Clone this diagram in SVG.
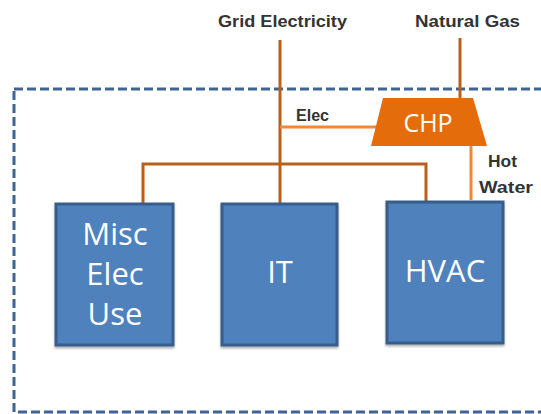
<svg xmlns="http://www.w3.org/2000/svg" width="541" height="414" viewBox="0 0 541 414">
<defs>
<filter id="sh" x="-10%" y="-10%" width="130%" height="130%"><feDropShadow dx="0" dy="2" stdDeviation="1" flood-color="#000" flood-opacity="0.3"/></filter>
</defs>
<style>
.lbl{font-family:"Liberation Sans",Arial,sans-serif;font-size:16px;font-weight:bold;fill:#333;}
.box{fill:#4F81BD;stroke:#385D8A;stroke-width:3;filter:url(#sh);}
.bt{font-family:"Open Sans","Liberation Sans",sans-serif;font-size:31px;fill:#fff;text-anchor:middle;}
.dist{stroke:#B85F1B;stroke-width:3;fill:none;}
.chpl{stroke:#F0883A;stroke-width:3;fill:none;}
</style>
<rect x="14" y="89" width="560" height="323" fill="none" stroke="#3E6494" stroke-width="3" stroke-dasharray="9,4"/>
<g id="connectors">
<line class="dist" x1="280" y1="40" x2="280" y2="203"/>
<line class="dist" x1="460" y1="38" x2="460" y2="98"/>
<polyline class="dist" points="143,203 143,164 426,164 426,201"/>
<line class="chpl" x1="280" y1="127" x2="376" y2="127"/>
<line class="chpl" x1="471" y1="145" x2="471" y2="200"/>
</g>
<g id="grid-label"><text class="lbl" x="218" y="27" textLength="129" lengthAdjust="spacingAndGlyphs">Grid Electricity</text></g>
<g id="gas-label"><text class="lbl" x="415" y="27" textLength="105" lengthAdjust="spacingAndGlyphs">Natural Gas</text></g>
<g id="elec-label"><text class="lbl" x="296" y="121" textLength="33" lengthAdjust="spacingAndGlyphs">Elec</text></g>
<g id="hot-label"><text class="lbl" x="488" y="167" textLength="29" lengthAdjust="spacingAndGlyphs">Hot</text><text class="lbl" x="479" y="193" textLength="54" lengthAdjust="spacingAndGlyphs">Water</text></g>
<g id="chp">
<polygon points="383,98 473,98 487,146 371,146" fill="#E46C0A"/>
<text x="428" y="132" font-family="Open Sans,Liberation Sans,sans-serif" font-size="25" fill="#fff" text-anchor="middle">CHP</text>
</g>
<g id="misc">
<rect class="box" x="56" y="204" width="117" height="141"/>
<text class="bt" x="115" y="245">Misc</text>
<text class="bt" x="115" y="285">Elec</text>
<text class="bt" x="115" y="325">Use</text>
</g>
<g id="it">
<rect class="box" x="222" y="204" width="115" height="141"/>
<text class="bt" x="280" y="283">IT</text>
</g>
<g id="hvac">
<rect class="box" x="387" y="202" width="116" height="141"/>
<text class="bt" x="445" y="282">HVAC</text>
</g>
</svg>
